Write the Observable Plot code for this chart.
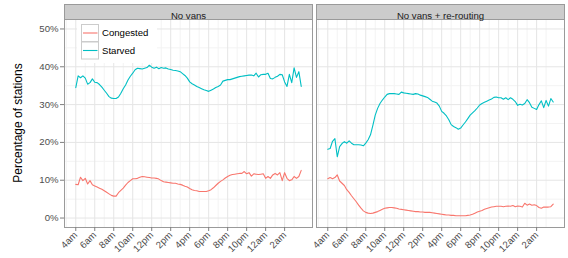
<!DOCTYPE html>
<html><head><meta charset="utf-8">
<script src="https://cdn.jsdelivr.net/npm/d3@7"></script>
<script src="https://cdn.jsdelivr.net/npm/@observablehq/plot@0.6"></script>
<style>
html,body{margin:0;padding:0;background:#fff;}
#chart{position:relative;width:568px;height:258px;}
</style></head><body><div id="chart"></div>
<script>
const FONT = "'Liberation Sans', Arial, Helvetica, sans-serif";
const panels = ["No vans", "No vans + re-routing"];
const seriesNames = ["Congested", "Starved"];
const seriesColors = ["#F8766D", "#00BFC4"];
const xTicks = [4, 6, 8, 10, 12, 14, 16, 18, 20, 22, 24, 26];
const xTickLabels = ["4am","6am","8am","10am","12pm","2pm","4pm","6pm","8pm","10pm","12am","2am"];
const yTicks = [0, 0.1, 0.2, 0.3, 0.4, 0.5];
// quarter-hour time grid, 4:00am .. 3:45am (hours since midnight)
const hours = d3.range(4, 28, 0.25);

// percentages, one per quarter hour
const noVansCongested = [
 8.9,8.8,10.8,9.9,10.5,9.0,9.9,8.8, 8.5,8.2,7.9,7.6,7.2,6.8,6.4,6.0,
 5.8,5.8,6.7,7.3,7.9,8.7,9.4,9.9, 10.4,10.4,10.5,10.8,11.0,10.9,10.8,10.7,
 10.6,10.6,10.5,10.3,9.9,9.6,9.5,9.4, 9.3,9.2,9.2,9.0,8.9,8.7,8.4,8.2,
 7.8,7.5,7.3,7.2,7.0,7.0,7.0,7.0, 7.2,7.5,8.0,8.6,9.2,9.7,10.1,10.6,
 11.0,11.3,11.5,11.6,11.7,11.8,11.8,12.3, 11.7,12.0,11.1,11.7,11.6,11.5,11.6,11.7,
 10.5,11.0,10.5,11.4,11.8,11.4,12.0,9.9, 12.0,10.5,9.9,10.1,11.0,10.5,11.0,12.6];
const noVansStarved = [
 34.5,37.6,37.1,37.6,37.0,35.4,35.8,36.8, 35.9,35.8,35.3,34.6,33.8,33.0,32.1,31.7,
 31.6,31.6,32.0,33.0,34.2,35.2,36.5,37.5, 38.3,39.2,39.6,39.5,39.4,39.6,39.8,40.4,
 39.9,39.6,39.9,39.5,39.8,39.6,39.7,39.4, 39.3,39.1,39.0,38.9,38.7,38.2,37.7,37.0,
 36.0,35.5,35.2,34.8,34.5,34.2,33.9,33.7, 33.5,33.8,34.1,34.5,34.8,35.2,36.2,36.4,
 36.6,36.6,36.8,37.0,37.2,37.4,37.5,37.6, 37.7,37.8,37.8,37.6,38.3,37.3,37.9,38.0,
 38.0,38.3,36.9,36.8,37.2,37.5,38.0,37.9, 36.0,34.8,38.0,35.8,39.7,37.2,38.7,34.8];
const reroutingCongested = [
 10.4,10.7,10.4,10.7,11.4,9.8,9.2,8.6, 7.5,6.8,5.9,5.1,4.3,3.4,2.6,1.9,
 1.5,1.3,1.2,1.3,1.5,1.7,2.0,2.3, 2.6,2.7,2.8,2.8,2.7,2.6,2.4,2.3,
 2.2,2.1,2.0,1.9,1.8,1.7,1.7,1.6, 1.6,1.5,1.5,1.5,1.4,1.3,1.2,1.1,
 1.0,0.9,0.8,0.8,0.7,0.7,0.6,0.6, 0.6,0.6,0.6,0.7,0.8,1.0,1.3,1.6,
 1.8,2.0,2.3,2.5,2.7,2.9,3.0,3.1, 3.1,3.1,3.0,3.1,3.2,3.1,3.3,3.0,
 3.2,3.1,2.9,3.9,3.4,3.7,3.4,3.5, 3.3,2.8,2.6,2.9,2.9,2.9,3.0,3.7];
const reroutingStarved = [
 18.2,18.4,20.3,21.0,16.2,18.9,19.7,20.2, 19.8,20.4,19.8,19.4,19.4,19.4,19.3,19.1,
 19.8,20.7,22.0,24.5,27.2,29.0,30.3,31.2, 32.0,32.7,32.9,32.9,32.9,32.8,32.7,33.3,
 33.1,33.0,32.9,32.8,32.7,32.9,32.8,32.5, 32.3,32.1,31.9,31.4,30.9,30.7,30.4,29.6,
 28.2,27.7,27.0,26.0,24.7,24.2,23.9,23.5, 23.8,24.6,25.4,26.3,27.2,27.8,28.4,29.1,
 29.9,30.3,30.6,30.9,31.2,31.5,31.9,32.0, 31.8,31.8,31.4,31.8,31.3,31.8,31.4,30.8,
 29.8,30.1,29.9,30.3,31.3,30.5,29.3,29.0, 28.7,30.0,31.0,29.2,31.1,29.6,31.6,30.7];

const rows = [];
function add(panel, type, vals) {
  vals.forEach((v, i) => rows.push({panel, type, hour: hours[i], value: v / 100}));
}
add(panels[0], "Congested", noVansCongested);
add(panels[0], "Starved", noVansStarved);
add(panels[1], "Congested", reroutingCongested);
add(panels[1], "Starved", reroutingStarved);

const minorX = d3.range(3, 28, 2);
const minorY = [0.05, 0.15, 0.25, 0.35, 0.45];

const svg = Plot.plot({
  width: 568, height: 258,
  marginLeft: 64, marginRight: 4, marginTop: 19, marginBottom: 31,
  style: {fontFamily: FONT, fontSize: "9.6px", background: "white", color: "#4d4d4d", overflow: "visible"},
  fx: {domain: panels, paddingInner: 0.016, paddingOuter: 0, axis: null, label: null},
  x: {domain: [2.8125, 28.9375]},
  y: {domain: [-0.025, 0.525]},
  color: {domain: seriesNames, range: seriesColors},
  marks: [
    Plot.gridX(minorX, {stroke: "#f3f3f3", strokeOpacity: 1}),
    Plot.gridY(minorY, {stroke: "#f3f3f3", strokeOpacity: 1}),
    Plot.gridX(xTicks, {stroke: "#e5e5e5", strokeOpacity: 1}),
    Plot.gridY(yTicks, {stroke: "#e5e5e5", strokeOpacity: 1}),
    Plot.line(rows, {fx: "panel", x: "hour", y: "value", stroke: "type", z: "type", strokeWidth: 1.1}),
    Plot.frame({stroke: "#9a9a9a"}),
    Plot.frame({fill: "#cccccc", stroke: "#9a9a9a", insetTop: -15, insetBottom: 208}),
    Plot.text(panels, {fx: d => d, text: d => d, frameAnchor: "top", dy: -7.5, fontSize: 9.6, fill: "#1a1a1a"}),
    Plot.axisY({ticks: yTicks, tickFormat: d3.format(".0%"), tickSize: 4, tickPadding: 2, stroke: "#7f7f7f", fill: "#4d4d4d", label: null}),
    Plot.axisX({ticks: xTicks, tickFormat: d => xTickLabels[xTicks.indexOf(d)], tickRotate: -45, tickSize: 4, tickPadding: 2, stroke: "#7f7f7f", fill: "#4d4d4d", label: null})
  ]
});
document.getElementById("chart").appendChild(svg);

const s = d3.select(svg);
// y-axis title
s.append("text")
  .attr("transform", "translate(18,123) rotate(-90)")
  .attr("text-anchor", "middle").attr("dy", "0.35em")
  .attr("font-family", FONT).attr("font-size", 12).attr("fill", "#000")
  .text("Percentage of stations");
// legend (inside the first panel)
const lg = s.append("g").attr("font-family", FONT).attr("font-size", 9.6).attr("text-anchor", "start");
lg.append("rect").attr("x", 77).attr("y", 20).attr("width", 80).attr("height", 43).attr("fill", "white");
seriesNames.forEach((name, i) => {
  const y0 = 24 + i * 17.5;
  lg.append("rect").attr("x", 81.5).attr("y", y0 + 0.5).attr("width", 17).attr("height", 17)
    .attr("fill", "white").attr("stroke", "#cccccc");
  lg.append("line").attr("x1", 83).attr("x2", 97.5).attr("y1", y0 + 9).attr("y2", y0 + 9)
    .attr("stroke", seriesColors[i]).attr("stroke-width", 1.1);
  lg.append("text").attr("x", 102).attr("y", y0 + 9).attr("dy", "0.35em")
    .attr("text-anchor", "start").attr("fill", "#000").text(name);
});
</script></body></html>
